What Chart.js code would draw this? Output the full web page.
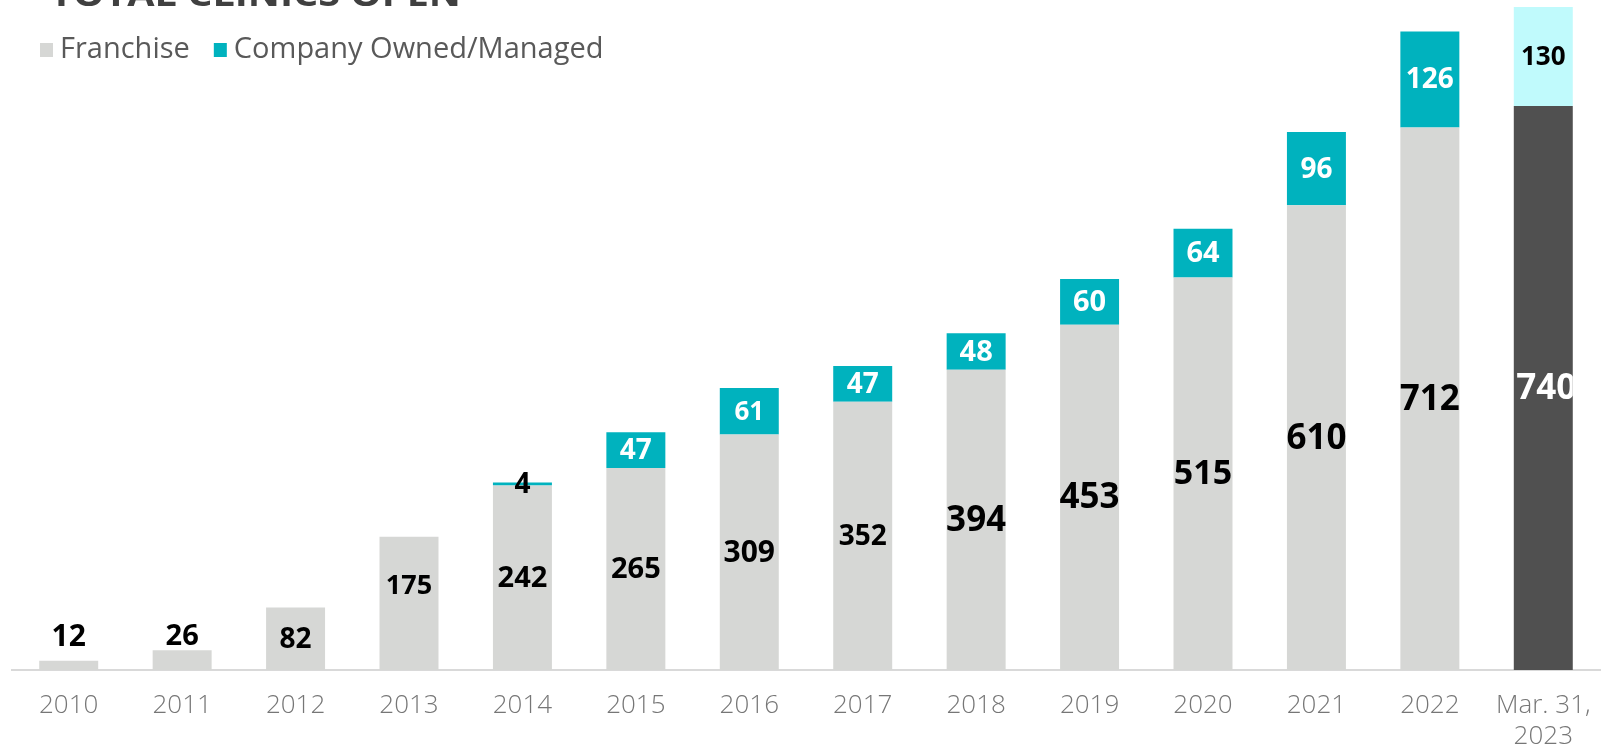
<!DOCTYPE html>
<html>
<head>
<meta charset="utf-8">
<script src="https://cdn.jsdelivr.net/npm/chart.js@4.4.0/dist/chart.umd.min.js"></script>
<style>
  html, body { margin: 0; padding: 0; background: #fff; }
  #wrap { width: 1620px; height: 750px; }
</style>
</head>
<body>
<div id="wrap"><canvas id="clinics" width="1620" height="750"></canvas></div>
<script>
// data
const years = ['2010', '2011', '2012', '2013', '2014', '2015', '2016', '2017', '2018', '2019', '2020', '2021', '2022', ['Mar. 31,', '2023']];
const franchise = [12, 26, 82, 175, 242, 265, 309, 352, 394, 453, 515, 610, 712, 740];
const companyOwned = [null, null, null, null, 4, 47, 61, 47, 48, 60, 64, 96, 126, 130];
const seriesNames = ['Franchise', 'Company Owned/Managed'];
const chartTitle = 'TOTAL CLINICS OPEN';

// styling
const FONT = "'Open Sans', 'Noto Sans', sans-serif";
const franchiseColors = years.map((y, i) => i === years.length - 1 ? '#505050' : '#D6D7D5');
const companyColors = years.map((y, i) => i === years.length - 1 ? '#C0FAFC' : '#00B2BE');
const legendColors = ['#D6D7D5', '#00B2BE'];

// label look per bar (the original has hand-tuned labels)
const franchiseLabelSize = [30, 29, 28, 27, 29, 29, 30, 28, 35, 35, 34, 35, 35, 35];
const franchiseLabelDy = [-29, -24, 0, -18, 0, 0, 0, 0, 0, 0, 0, 0, 0, 0];
const franchiseLabelColor = years.map((y, i) => i === years.length - 1 ? '#FFFFFF' : '#000000');
const companyLabelSize = [26, 26, 26, 26, 28, 28, 26, 28, 29, 29, 29, 28, 28, 26];
const companyLabelColor = ['#fff', '#fff', '#fff', '#fff', '#000', '#fff', '#fff', '#fff', '#fff', '#fff', '#fff', '#fff', '#fff', '#000'];

const labelPlugin = {
  id: 'barLabels',
  afterDatasetsDraw(chart) {
    const ctx = chart.ctx;
    chart.data.datasets.forEach((ds, di) => {
      const meta = chart.getDatasetMeta(di);
      meta.data.forEach((bar, i) => {
        const v = ds.data[i];
        if (v == null) return;
        const size = di === 0 ? franchiseLabelSize[i] : companyLabelSize[i];
        const dy = di === 0 ? franchiseLabelDy[i] : 0;
        const y = (bar.y + bar.base) / 2 + dy;
        ctx.save();
        if (dy === 0 && bar.base - bar.y > size) {
          ctx.beginPath();
          ctx.rect(bar.x - bar.width / 2, bar.y, bar.width, bar.base - bar.y);
          ctx.clip();
        }
        ctx.font = 'bold ' + size + 'px ' + FONT;
        ctx.fillStyle = di === 0 ? franchiseLabelColor[i] : companyLabelColor[i];
        ctx.textAlign = 'center';
        ctx.textBaseline = 'middle';
        ctx.fillText(String(v), bar.x + (i === years.length - 1 && di === 0 ? 3 : 0), y + 1);
        ctx.restore();
      });
    });
  }
};

// title is cut off at the top of the slide, legend sits inside the plot
const headerPlugin = {
  id: 'header',
  afterDraw(chart) {
    const ctx = chart.ctx;
    ctx.save();
    ctx.font = 'bold 34px ' + FONT;
    const w = ctx.measureText(chartTitle).width;
    ctx.translate(50, 6);
    ctx.scale(411 / w, 1);
    ctx.fillStyle = '#404040';
    ctx.textBaseline = 'alphabetic';
    ctx.fillText(chartTitle, 0, 0);
    ctx.restore();

    ctx.save();
    ctx.font = '29px ' + FONT;
    ctx.textBaseline = 'middle';
    let x = 40;
    seriesNames.forEach((name, k) => {
      ctx.fillStyle = legendColors[k];
      ctx.fillRect(x, 43, 13, 14);
      ctx.fillStyle = '#595959';
      ctx.fillText(name, x + 20, 50);
      x += 20 + ctx.measureText(name).width + 24;
    });
    ctx.restore();
  }
};

new Chart(document.getElementById('clinics'), {
  type: 'bar',
  data: {
    labels: years,
    datasets: [
      {
        label: seriesNames[0],
        data: franchise,
        backgroundColor: franchiseColors,
        borderWidth: 0
      },
      {
        label: seriesNames[1],
        data: companyOwned,
        backgroundColor: companyColors,
        borderWidth: 0
      }
    ]
  },
  options: {
    responsive: false,
    devicePixelRatio: 1,
    animation: false,
    barPercentage: 0.52,
    categoryPercentage: 1,
    layout: { padding: { left: 12, right: 20, top: 7, bottom: 0 } },
    plugins: {
      legend: { display: false },
      tooltip: { enabled: false },
      title: { display: false }
    },
    scales: {
      x: {
        stacked: true,
        grid: { display: false, drawTicks: false },
        border: { display: true, color: '#D9D9D9', width: 2 },
        ticks: {
          color: '#767676',
          font: { family: FONT, size: 26, weight: 300, lineHeight: 1.2 },
          padding: 20,
          maxRotation: 0,
          autoSkip: false
        },
        afterFit(scale) { scale.height = 80; }
      },
      y: {
        stacked: true,
        display: false,
        min: 0,
        max: 870
      }
    }
  },
  plugins: [labelPlugin, headerPlugin]
});
</script>
</body>
</html>
